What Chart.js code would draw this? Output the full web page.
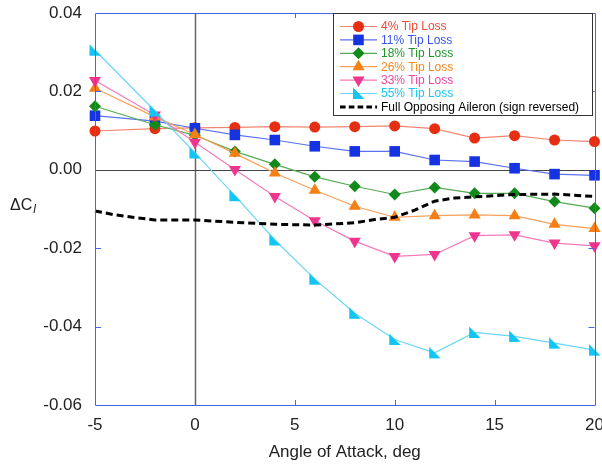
<!DOCTYPE html>
<html>
<head>
<meta charset="utf-8">
<script src="https://cdn.jsdelivr.net/npm/chart.js@4.4.0/dist/chart.umd.min.js"></script>
<style>
  html, body { margin: 0; padding: 0; background: #fff; }
</style>
</head>
<body>
<canvas id="chart" width="602" height="465"></canvas>
<script>
const angles = [-5, -2, 0, 2, 4, 6, 8, 10, 12, 14, 16, 18, 20];
const tipLoss4 = [0.0099, 0.0105, 0.0107, 0.0108, 0.011, 0.0109, 0.011, 0.0112, 0.0105, 0.0081, 0.0087, 0.0076, 0.0072];
const tipLoss11 = [0.0138, 0.0124, 0.0106, 0.0089, 0.0076, 0.006, 0.0047, 0.0047, 0.0025, 0.0021, 0.0004, -0.0011, -0.0014];
const tipLoss18 = [0.0162, 0.0115, 0.0088, 0.0047, 0.0014, -0.0018, -0.0042, -0.0063, -0.0045, -0.006, -0.006, -0.0081, -0.0098];
const tipLoss26 = [0.0208, 0.0135, 0.009, 0.0042, -0.0008, -0.0052, -0.0093, -0.0121, -0.0117, -0.0115, -0.0117, -0.0139, -0.015];
const tipLoss33 = [0.0228, 0.014, 0.007, 0.0001, -0.0068, -0.013, -0.0182, -0.0221, -0.0216, -0.0168, -0.0166, -0.0187, -0.0194];
const tipLoss55 = [0.0305, 0.015, 0.0043, -0.0066, -0.0179, -0.0279, -0.0366, -0.0433, -0.0467, -0.0415, -0.0425, -0.0442, -0.046];

const aileronAngles = [-5, -4, -3, -2, 0, 2, 4, 6, 8, 9, 10, 11, 12, 13, 14, 16, 18, 20];
const aileronValues = [-0.0105, -0.0115, -0.0122, -0.0128, -0.0128, -0.0134, -0.0139, -0.0141, -0.0135, -0.0127, -0.0121, -0.0103, -0.008, -0.0072, -0.0069, -0.0063, -0.0062, -0.0068];

const seriesLabels = ["4% Tip Loss", "11% Tip Loss", "18% Tip Loss", "26% Tip Loss", "33% Tip Loss", "55% Tip Loss", "Full Opposing Aileron (sign reversed)"];
const xTicks = [-5, 0, 5, 10, 15, 20];
const yTicks = [-0.06, -0.04, -0.02, 0, 0.02, 0.04];

const FONT = "'Liberation Sans', Arial, Helvetica, sans-serif";
const frameColor = "#4a63e6";

function makeFlagMarker(fill) {
  const c = document.createElement("canvas");
  c.width = 13;
  c.height = 13;
  const g = c.getContext("2d");
  g.fillStyle = fill;
  g.beginPath();
  g.moveTo(1, 0.5);
  g.lineTo(1, 12);
  g.lineTo(12.5, 12);
  g.closePath();
  g.fill();
  return c;
}

const flagMarker = makeFlagMarker("#12c5f2");

function toPoints(xs, ys) {
  return xs.map((x, i) => ({ x: x, y: ys[i] }));
}

function tipSeries(index, values, lineColor, markColor, textColor, style, radius, rotation) {
  return {
    label: seriesLabels[index],
    data: toPoints(angles, values),
    borderColor: lineColor,
    backgroundColor: markColor,
    pointBackgroundColor: markColor,
    pointBorderColor: markColor,
    pointBorderWidth: 0,
    borderWidth: 1.2,
    pointStyle: style,
    pointRadius: radius,
    pointRotation: rotation || 0,
    textColor: textColor,
    clip: false,
    order: 10 - index,
  };
}

const datasets = [
  tipSeries(0, tipLoss4, "#f28572", "#e62e12", "#ef4a35", "circle", 5.5),
  tipSeries(1, tipLoss11, "#5a70f0", "#1533e0", "#3a55ee", "rect", 7.5),
  tipSeries(2, tipLoss18, "#55aa55", "#118a1a", "#1f9628", "rectRot", 6),
  tipSeries(3, tipLoss26, "#f6a05a", "#f57f14", "#f5861f", "triangle", 7),
  tipSeries(4, tipLoss33, "#f57ab8", "#f0358f", "#f0479a", "triangle", 7, 180),
  tipSeries(5, tipLoss55, "#6ad6f6", "#12c5f2", "#1ec6f2", flagMarker, 6),
  {
    label: seriesLabels[6],
    data: toPoints(aileronAngles, aileronValues),
    borderColor: "#000",
    backgroundColor: "#000",
    borderWidth: 3,
    borderDash: [7, 4],
    pointRadius: 0,
    textColor: "#000",
    clip: false,
    order: 3,
  },
];

function drawMarker(ctx, ds, x, y) {
  if (!ds.pointRadius) {
    return;
  }
  ctx.save();
  ctx.fillStyle = ds.pointBackgroundColor;
  ctx.strokeStyle = ds.pointBorderColor;
  Chart.helpers.drawPoint(ctx, {
    pointStyle: ds.pointStyle,
    radius: ds.pointRadius,
    rotation: ds.pointRotation,
    borderWidth: 0,
  }, x, y);
  ctx.restore();
}

const frameAndLegendPlugin = {
  id: "frameAndLegend",
  beforeDatasetsDraw(chart) {
    const area = chart.chartArea;
    const ctx = chart.ctx;
    const xScale = chart.scales.x;
    const yScale = chart.scales.y;
    const x0 = Math.round(xScale.getPixelForValue(0)) + 0.5;
    const y0 = Math.round(yScale.getPixelForValue(0)) + 0.5;

    ctx.save();
    ctx.strokeStyle = "#666";
    ctx.lineWidth = 1.5;
    ctx.beginPath();
    ctx.moveTo(x0, area.top);
    ctx.lineTo(x0, area.bottom);
    ctx.stroke();
    ctx.lineWidth = 1;
    ctx.strokeStyle = "#444";
    ctx.beginPath();
    ctx.moveTo(area.left, y0);
    ctx.lineTo(area.right, y0);
    ctx.stroke();
    ctx.restore();
  },
  afterDatasetsDraw(chart) {
    const area = chart.chartArea;
    const ctx = chart.ctx;
    const xScale = chart.scales.x;
    const yScale = chart.scales.y;

    ctx.save();
    ctx.strokeStyle = frameColor;
    ctx.lineWidth = 1;
    ctx.beginPath();
    ctx.rect(Math.round(area.left) + 0.5, Math.round(area.top) + 0.5,
      Math.round(area.right - area.left), Math.round(area.bottom - area.top));
    xTicks.slice(1, -1).forEach((value) => {
      if (value === 0) {
        return;
      }
      const px = Math.round(xScale.getPixelForValue(value)) + 0.5;
      ctx.moveTo(px, area.bottom);
      ctx.lineTo(px, area.bottom - 5);
      ctx.moveTo(px, area.top);
      ctx.lineTo(px, area.top + 5);
    });
    yTicks.slice(1, -1).forEach((value) => {
      if (value === 0) {
        return;
      }
      const py = Math.round(yScale.getPixelForValue(value)) + 0.5;
      ctx.moveTo(area.left, py);
      ctx.lineTo(area.left + 6, py);
      ctx.moveTo(area.right, py);
      ctx.lineTo(area.right - 6, py);
    });
    ctx.stroke();

    // legend box
    const boxLeft = 333.5;
    const boxTop = 13.5;
    const boxRight = 592.5;
    const boxBottom = 115.5;
    ctx.fillStyle = "#fff";
    ctx.fillRect(boxLeft, boxTop, boxRight - boxLeft, boxBottom - boxTop);
    ctx.strokeStyle = "#333";
    ctx.lineWidth = 1;
    ctx.strokeRect(boxLeft, boxTop, boxRight - boxLeft, boxBottom - boxTop);

    ctx.font = "12px " + FONT;
    ctx.textBaseline = "middle";
    ctx.textAlign = "left";
    chart.data.datasets.forEach((ds, i) => {
      const rowY = 26.5 + i * 13.4;
      ctx.save();
      ctx.strokeStyle = ds.borderColor;
      ctx.lineWidth = ds.borderWidth;
      if (ds.borderDash) {
        ctx.setLineDash(ds.borderDash.map((d) => d * 0.8));
      }
      ctx.beginPath();
      ctx.moveTo(340, rowY);
      ctx.lineTo(377, rowY);
      ctx.stroke();
      ctx.restore();
      drawMarker(ctx, ds, 358.5, rowY);
      ctx.fillStyle = ds.textColor;
      ctx.fillText(ds.label, 381, rowY + 0.5);
    });

    // y axis title
    ctx.fillStyle = "#222";
    ctx.font = "16px " + FONT;
    ctx.textBaseline = "alphabetic";
    ctx.fillText("\u0394C", 10, 210);
    const w = ctx.measureText("\u0394C").width;
    ctx.font = "italic 12px " + FONT;
    ctx.fillText("l", 10 + w + 1, 213);
    ctx.restore();
  },
};

new Chart(document.getElementById("chart"), {
  type: "line",
  data: { datasets: datasets },
  plugins: [frameAndLegendPlugin],
  options: {
    responsive: false,
    animation: false,
    layout: { padding: { left: 10, top: 13, right: 7, bottom: 0 } },
    plugins: {
      legend: { display: false },
      tooltip: { enabled: false },
    },
    scales: {
      x: {
        type: "linear",
        min: -5,
        max: 20,
        afterBuildTicks(scale) {
          scale.ticks = xTicks.map((v) => ({ value: v }));
        },
        afterFit(scale) {
          scale.height = 60;
          scale.paddingLeft = 0;
          scale.paddingRight = 0;
        },
        grid: { display: false, drawTicks: false },
        border: { display: false },
        ticks: {
          color: "#222",
          padding: 10,
          maxRotation: 0,
          font: { family: FONT, size: 17 },
        },
        title: {
          display: true,
          text: "Angle of Attack, deg",
          color: "#222",
          padding: { top: 0, bottom: 2 },
          font: { family: FONT, size: 17 },
        },
      },
      y: {
        type: "linear",
        min: -0.06,
        max: 0.04,
        afterBuildTicks(scale) {
          scale.ticks = yTicks.map((v) => ({ value: v }));
        },
        afterFit(scale) {
          scale.width = 85;
          scale.paddingTop = 0;
          scale.paddingBottom = 0;
        },
        grid: { display: false, drawTicks: false },
        border: { display: false },
        ticks: {
          color: "#222",
          padding: 13,
          font: { family: FONT, size: 17 },
          callback: (value) => value.toFixed(2),
        },
      },
    },
  },
});
</script>
</body>
</html>
